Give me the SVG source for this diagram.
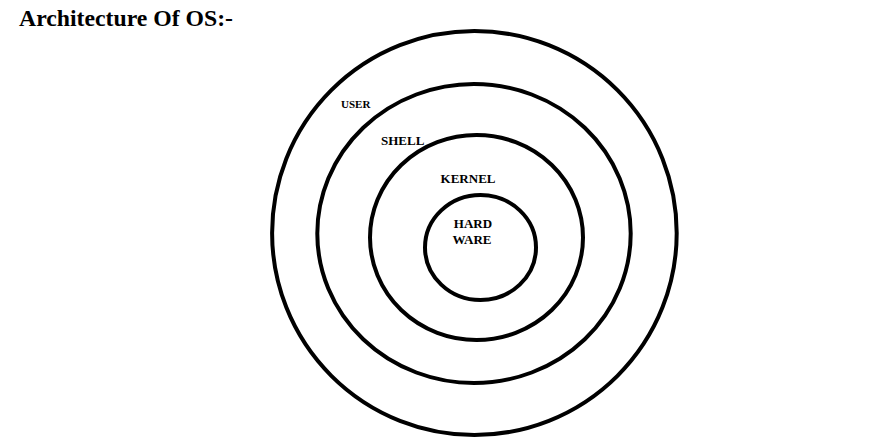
<svg xmlns="http://www.w3.org/2000/svg" width="892" height="445" viewBox="0 0 892 445">
<style>
.ring{fill:none;stroke:#000;stroke-width:4}
.lbl{font-family:"Liberation Serif","Times New Roman",serif;font-weight:bold;fill:#000}
</style>
<rect width="892" height="445" fill="#fff"/>
<text class="lbl" x="19" y="26" font-size="23" textLength="214" lengthAdjust="spacingAndGlyphs">Architecture Of OS:-</text>
<g id="user">
<ellipse class="ring" cx="474.4" cy="233" rx="202.3" ry="202"/>
<text class="lbl" x="341" y="107.5" font-size="11">USER</text>
</g>
<g id="shell">
<ellipse class="ring" cx="474" cy="233.5" rx="156.7" ry="149.5"/>
<text class="lbl" x="381" y="145" font-size="13">SHELL</text>
</g>
<g id="kernel">
<ellipse class="ring" cx="476.5" cy="237.5" rx="106.5" ry="102.5"/>
<text class="lbl" x="440.5" y="183" font-size="13" textLength="55">KERNEL</text>
</g>
<g id="hardware">
<ellipse class="ring" cx="480.5" cy="247.5" rx="55.5" ry="52.5"/>
<text class="lbl" x="473" y="227.5" font-size="13" text-anchor="middle">HARD</text>
<text class="lbl" x="472" y="243.5" font-size="13" text-anchor="middle">WARE</text>
</g>
<g id="connectors"></g>
</svg>
